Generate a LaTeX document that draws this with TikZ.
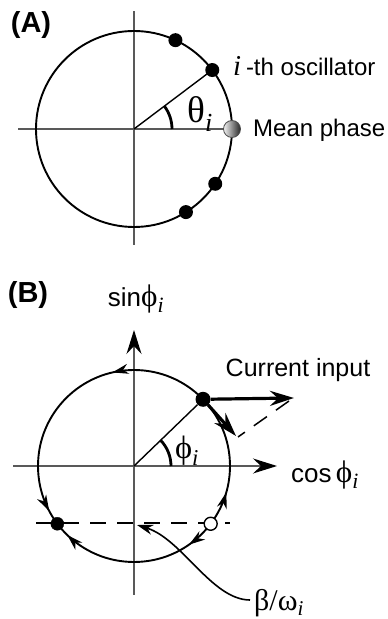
\documentclass[tikz,border=0pt]{standalone}
\usepackage{fontspec}
\setmainfont{Liberation Sans}
\newfontfamily\grk[Scale=1.2]{Liberation Serif}
\usetikzlibrary{arrows.meta,decorations.markings,calc}

% subscript i in serif italic
\newcommand{\isub}{\textsubscript{\grk\itshape i}}

\tikzset{
  axisline/.style={draw=black!65, line width=1.2pt},
  orbit/.style={draw=black, line width=1.9pt},
  osc/.style={circle, fill=black, inner sep=0pt, minimum size=14pt},
  smalldot/.style={circle, fill=black, draw=black, inner sep=0pt, minimum size=13pt},
  opendot/.style={circle, fill=white, draw=black, line width=1.4pt, inner sep=0pt, minimum size=13pt},
  meanball/.style={circle, inner sep=0pt, minimum size=17pt, draw=black!70, line width=0.8pt,
    left color=gray!10, right color=black!85},
  anglearc/.style={line width=2.8pt},
  flowtip/.tip={Stealth[length=16pt,width=10pt,inset=5pt]},
  bigtip/.tip={Stealth[length=24pt,width=15pt,inset=8pt,color=black]},
  lbl/.style={font=\fontsize{24}{28}\selectfont, inner sep=0pt},
  panel/.style={font=\fontsize{29}{33}\selectfont\bfseries, inner sep=0pt}
}

\begin{document}
\begin{tikzpicture}[x=1pt, y=1pt]
\useasboundingbox (0,0) rectangle (388,619);

% ---------------- (A) ----------------
\coordinate (OA) at (134,490);
\node[panel] (labA) at (31,594) {(A)};

% axes
\draw[axisline] (18,490) -- (232,490);
\draw[axisline] (134,374) -- (134,608);

% unit circle
\draw[orbit] (OA) circle (98);

% angle of the i-th oscillator
\draw[line width=1.4pt] (OA) -- ($(OA)+(37:98)$);
\draw[anglearc] ($(OA)+(0:38)$) arc (0:37:38);
\node[font=\fontsize{31}{34}\selectfont, inner sep=0pt] (theta) at (200,505) {{\grk θ}\isub};

% oscillators
\foreach \a [count=\k] in {65,37,-34,-58} {
  \node[osc] (osc\k) at ($(OA)+(\a:98)$) {};
}
\node[meanball] (mean) at ($(OA)+(0:98)$) {};

\node[lbl, anchor=west] (ith) at (233,553) {{\grk\itshape i\,}-th oscillator};
\node[lbl, anchor=west] (meanlbl) at (253,489) {Mean phase};

% ---------------- (B) ----------------
\coordinate (OB) at (134,153);
\node[panel] (labB) at (28,324) {(B)};

% axes
\draw[axisline, -{bigtip}] (13,153) -- (277,153);
\draw[axisline, -{bigtip}] (134,24) -- (134,289);
\node[font=\fontsize{26}{30}\selectfont, inner sep=0pt] (sinlbl) at (136,320) {sin{\grk ϕ}\isub};
\node[font=\fontsize{26}{30}\selectfont, inner sep=0pt] (coslbl) at (325,144) {cos\,{\grk ϕ}\isub};

% fixed points on the dashed line
\draw[line width=1.6pt, dash pattern=on 16pt off 11pt] (36,96) -- (230,96);

% circle with the flow
\draw[orbit, decoration={markings,
    mark=at position 103/360 with {\arrow{flowtip}},
    mark=at position 208/360 with {\arrow{flowtip}},
    mark=at position 226/360 with {\arrowreversed{flowtip}},
    mark=at position 305/360 with {\arrowreversed{flowtip}},
    mark=at position 344/360 with {\arrow{flowtip}}},
  postaction=decorate] (OB) circle (96);

\node[smalldot] (stable) at ($(OB)+(217:96)$) {};
\node[opendot] (unstable) at ($(OB)+(-37:96)$) {};

% current oscillator and input
\node[osc, minimum size=15pt] (cur) at ($(OB)+(44:96)$) {};
\draw[line width=1.4pt] (OB) -- (cur);
\draw[anglearc] ($(OB)+(0:37)$) arc (0:44:37);
\node[font=\fontsize{27}{30}\selectfont, inner sep=0pt] (phi) at (187,168) {{\grk ϕ}\isub};

\coordinate (inp) at (294,221);
\coordinate (tang) at (236,183);
\draw[line width=1.5pt, dash pattern=on 16pt off 11pt] (289,218) -- (238,182);
\draw[line width=3.2pt, -{bigtip}] (cur) -- (inp);
\draw[line width=3.2pt, -{bigtip}] (cur) -- (tang);
\node[font=\fontsize{25}{29}\selectfont, inner sep=0pt] (inplbl) at (298,249) {Current input};

% beta/omega label
\node[font=\fontsize{25}{28}\selectfont, inner sep=0pt] (beta) at (279,16) {{\grk β/ω}\isub};
\draw[line width=1.6pt, -{flowtip}] (250,19) .. controls (212,19) and (182,80) .. (137,94);

\end{tikzpicture}
\end{document}
